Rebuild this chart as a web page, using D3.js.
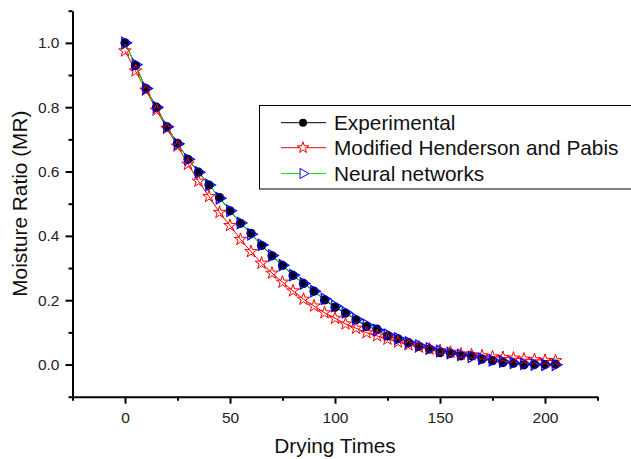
<!DOCTYPE html>
<html>
<head>
<meta charset="utf-8">
<script src="https://cdn.jsdelivr.net/npm/d3@7"></script>
<style>
  body { margin: 0; background: #fff; }
  svg { display: block; font-family: "Liberation Sans", Arial, sans-serif; }
</style>
</head>
<body>
<div id="chart"></div>
<script>
// ── Data ────────────────────────────────────────────────────────────────────
const times = d3.range(0, 206, 5);

const experimental = [
  1.000, 0.930, 0.858, 0.800, 0.739, 0.688, 0.638, 0.598, 0.558, 0.519,
  0.478, 0.439, 0.408, 0.370, 0.338, 0.308, 0.277, 0.252, 0.228, 0.201,
  0.178, 0.160, 0.139, 0.118, 0.110, 0.089, 0.080, 0.068, 0.056, 0.048,
  0.037, 0.035, 0.027, 0.027, 0.017, 0.012, 0.006, 0.004, -0.001, 0.000,
  0.000, 0.001
];

const henderson = [
  0.975, 0.913, 0.853, 0.791, 0.734, 0.679, 0.623, 0.570, 0.522, 0.473,
  0.432, 0.389, 0.351, 0.315, 0.284, 0.256, 0.229, 0.203, 0.182, 0.161,
  0.144, 0.126, 0.113, 0.099, 0.089, 0.079, 0.070, 0.061, 0.054, 0.048,
  0.043, 0.038, 0.033, 0.030, 0.027, 0.024, 0.022, 0.020, 0.017, 0.015,
  0.013, 0.012
];

const neural = [
  1.000, 0.932, 0.858, 0.800, 0.739, 0.686, 0.638, 0.598, 0.558, 0.517,
  0.478, 0.440, 0.405, 0.372, 0.339, 0.309, 0.278, 0.252, 0.228, 0.204,
  0.182, 0.162, 0.141, 0.123, 0.107, 0.093, 0.081, 0.069, 0.059, 0.050,
  0.042, 0.036, 0.030, 0.024, 0.018, 0.013, 0.009, 0.005, 0.002, 0.000,
  -0.001, -0.001
];

const xTicks = [0, 50, 100, 150, 200];
const yTicks = [0.0, 0.2, 0.4, 0.6, 0.8, 1.0];
const legendLabels = ['Experimental', 'Modified Henderson and Pabis', 'Neural networks'];

// ── Layout ──────────────────────────────────────────────────────────────────
const W = 631, H = 459;
const plot = { left: 72.5, right: 597.5, top: 10.7, bottom: 396.7 };

const svg = d3.select('#chart').append('svg')
  .attr('width', W)
  .attr('height', H);

const x = d3.scaleLinear().domain([-25, 225]).range([plot.left, plot.right]);
const y = d3.scaleLinear().domain([-0.1, 1.1]).range([plot.bottom, plot.top]);

// ── Axes ────────────────────────────────────────────────────────────────────
// minor ticks first
svg.append('g')
  .attr('transform', `translate(0,${plot.bottom})`)
  .call(d3.axisBottom(x).tickValues([-25, 25, 75, 125, 175, 225]).tickSize(4).tickFormat(''))
  .call(g => g.select('.domain').remove())
  .selectAll('line').attr('stroke', '#000').attr('stroke-width', 2);

svg.append('g')
  .attr('transform', `translate(${plot.left},0)`)
  .call(d3.axisLeft(y).tickValues([-0.1, 0.1, 0.3, 0.5, 0.7, 0.9, 1.1]).tickSize(4).tickFormat(''))
  .call(g => g.select('.domain').remove())
  .selectAll('line').attr('stroke', '#000').attr('stroke-width', 2);

const xAxis = svg.append('g')
  .attr('transform', `translate(0,${plot.bottom})`)
  .call(d3.axisBottom(x).tickValues(xTicks).tickSize(7).tickPadding(8).tickSizeOuter(0));
xAxis.select('.domain').attr('stroke', '#000').attr('stroke-width', 2);
xAxis.selectAll('line').attr('stroke', '#000').attr('stroke-width', 2);
xAxis.selectAll('text').style('font-size', '15.5px').attr('fill', '#222');

const yAxis = svg.append('g')
  .attr('transform', `translate(${plot.left},0)`)
  .call(d3.axisLeft(y).tickValues(yTicks).tickFormat(d3.format('.1f')).tickSize(7).tickPadding(6).tickSizeOuter(0));
yAxis.select('.domain').attr('stroke', '#000').attr('stroke-width', 2);
yAxis.selectAll('line').attr('stroke', '#000').attr('stroke-width', 2);
yAxis.selectAll('text').style('font-size', '15.5px').attr('fill', '#222');

// axis titles
svg.append('text')
  .attr('x', (plot.left + plot.right) / 2)
  .attr('y', 453)
  .attr('text-anchor', 'middle')
  .style('font-size', '20.8px')
  .attr('fill', '#111')
  .text('Drying Times');

svg.append('text')
  .attr('transform', `translate(27,${(plot.top + plot.bottom) / 2}) rotate(-90)`)
  .attr('text-anchor', 'middle')
  .style('font-size', '20.8px')
  .attr('fill', '#111')
  .text('Moisture Ratio (MR)');

// ── Series ──────────────────────────────────────────────────────────────────
const line = d3.line().x(d => x(d[0])).y(d => y(d[1]));
const expData = times.map((t, i) => [t, experimental[i]]);
const henData = times.map((t, i) => [t, henderson[i]]);
const nnData = times.map((t, i) => [t, neural[i]]);

const star = d3.symbol().type(d3.symbolStar).size(48);
const tri = d3.symbol().type(d3.symbolTriangle).size(55);

svg.append('path').datum(expData).attr('d', line)
  .attr('fill', 'none').attr('stroke', '#000').attr('stroke-width', 1);
svg.append('path').datum(henData).attr('d', line)
  .attr('fill', 'none').attr('stroke', '#ff0000').attr('stroke-width', 1);
svg.append('path').datum(nnData).attr('d', line)
  .attr('fill', 'none').attr('stroke', '#00ee00').attr('stroke-width', 1);

svg.append('g').selectAll('circle')
  .data(expData)
  .join('circle')
  .attr('cx', d => x(d[0]))
  .attr('cy', d => y(d[1]))
  .attr('r', 4.6)
  .attr('fill', '#000');

svg.append('g').selectAll('path')
  .data(henData)
  .join('path')
  .attr('d', star)
  .attr('transform', d => `translate(${x(d[0])},${y(d[1])})`)
  .attr('fill', 'none')
  .attr('stroke', '#ff0000')
  .attr('stroke-width', 1);

svg.append('g').selectAll('path')
  .data(nnData)
  .join('path')
  .attr('d', tri)
  .attr('transform', d => `translate(${x(d[0])},${y(d[1])}) rotate(90)`)
  .attr('fill', 'none')
  .attr('stroke', '#0000ff')
  .attr('stroke-width', 1.2);

// ── Legend ──────────────────────────────────────────────────────────────────
const legend = svg.append('g');
legend.append('rect')
  .attr('x', 259.5).attr('y', 105.5)
  .attr('width', 400).attr('height', 83.5)
  .attr('fill', '#fff').attr('stroke', '#000').attr('stroke-width', 1);

const legendColors = [
  { line: '#000', mark: '#000' },
  { line: '#ff0000', mark: '#ff0000' },
  { line: '#00ee00', mark: '#0000ff' }
];
const rowY = [122.7, 147.7, 173.5];

legendLabels.forEach((label, i) => {
  const yy = rowY[i];
  legend.append('line')
    .attr('x1', 281).attr('x2', 326).attr('y1', yy).attr('y2', yy)
    .attr('stroke', legendColors[i].line).attr('stroke-width', 1);
  if (i === 0) {
    legend.append('circle').attr('cx', 303).attr('cy', yy).attr('r', 4).attr('fill', '#000');
  } else if (i === 1) {
    legend.append('path').attr('d', d3.symbol().type(d3.symbolStar).size(40))
      .attr('transform', `translate(303,${yy})`)
      .attr('fill', '#fff').attr('stroke', '#ff0000').attr('stroke-width', 1);
  } else {
    legend.append('path').attr('d', d3.symbol().type(d3.symbolTriangle).size(45))
      .attr('transform', `translate(303,${yy}) rotate(90)`)
      .attr('fill', '#fff').attr('stroke', '#0000ff').attr('stroke-width', 1);
  }
  legend.append('text')
    .attr('x', 334).attr('y', yy + 7)
    .style('font-size', '20.8px')
    .attr('fill', '#111')
    .text(label);
});
</script>
</body>
</html>
